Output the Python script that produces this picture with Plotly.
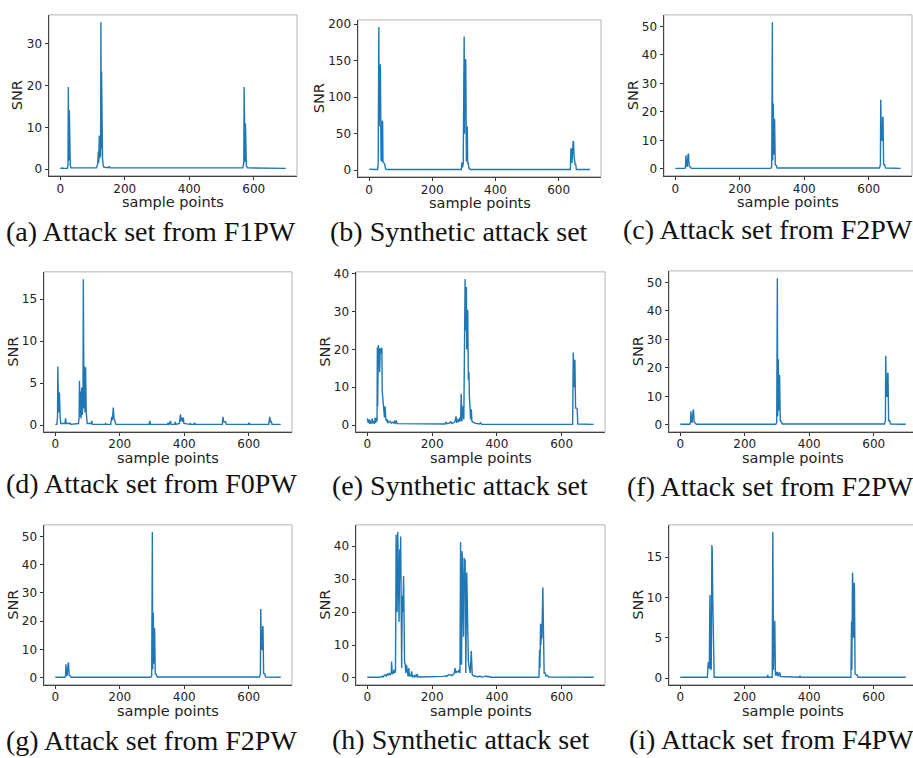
import plotly.graph_objects as go

W, H = 913, 758

# ---------------- data (sample index, SNR) ----------------
x_ticks = [0, 200, 400, 600]
n_samples = 700

# (a) Attack set from F1PW
a_pts = [(0, 0.2), (5, 0.2), (6, 0.4), (8, 0.2), (22, 0.2), (24, 1.0), (25, 19.7), (26, 2.0),
         (27, 3.0), (28, 14.1), (29, 1.5), (30, 14.0), (31, 1.0), (33, 0.3), (112, 0.3), (116, 1.2),
         (118, 4.2), (119, 1.5), (121, 8.0), (122, 2.5), (124, 8.2), (125, 3.0), (126, 35.2), (127, 5.0),
         (128, 23.4), (129, 3.0), (130, 23.3), (131, 2.5), (133, 1.0), (135, 0.5), (140, 0.4), (150, 0.4),
         (152, 0.7), (154, 0.3), (566, 0.3), (569, 1.5), (570, 19.7), (571, 2.0), (572, 11.2), (573, 1.8),
         (574, 11.0), (575, 1.5), (577, 0.8), (580, 0.3), (699, 0.2)]
a_yticks = [0, 10, 20, 30]

# (b) Synthetic attack set
b_pts = [(0, 1.5), (5, 1.0), (10, 1.4), (15, 1.0), (20, 1.2), (27, 1.0), (29, 10), (31, 196), (32, 60),
         (34, 140), (35, 145), (36, 138), (38, 15), (40, 12), (42, 68), (43, 66), (44, 12), (46, 10),
         (48, 8), (50, 8), (52, 2), (56, 1.0), (292, 1.0), (294, 11), (296, 4), (298, 10), (301, 183),
         (302, 50), (304, 148), (305, 150), (306, 152), (308, 12), (310, 60), (311, 58), (312, 10),
         (314, 10), (316, 3), (320, 1.0), (637, 1.0), (639, 30), (640, 29), (642, 10), (646, 40),
         (647, 38), (649, 18), (650, 10), (652, 8), (654, 8), (656, 1.0), (699, 1.0)]
b_yticks = [0, 50, 100, 150, 200]

# (c), (f), (g) Attack set from F2PW
f2_pts = [(0, 0.2), (30, 0.2), (32, 1.0), (33, 4.8), (35, 0.8), (37, 1.0), (40, 5.3), (41, 5.2),
          (43, 1.0), (46, 0.5), (50, 0.2), (296, 0.2), (299, 0.8), (301, 51.5), (302, 3.0), (304, 23.0),
          (305, 5.0), (307, 17.5), (308, 17.3), (310, 1.5), (313, 1.2), (316, 0.3), (633, 0.3),
          (636, 1.5), (637, 24.3), (639, 10.0), (641, 10.0), (643, 18.3), (644, 18.0), (646, 1.5),
          (649, 1.5), (652, 0.3), (699, 0.2)]
f2_yticks = [0, 10, 20, 30, 40, 50]

# (d) Attack set from F0PW
d_pts = [(0, 0.1), (5, 0.1), (7, 1.0), (8, 7.0), (10, 1.5), (12, 3.9), (13, 3.8), (15, 1.0), (17, 0.2),
         (30, 0.2), (32, 0.8), (34, 0.2), (44, 0.2), (46, 0.3), (48, 0.1), (72, 0.2), (74, 1.0), (75, 5.3),
         (77, 1.0), (78, 4.0), (80, 0.8), (82, 4.5), (84, 1.2), (86, 4.3), (87, 17.4), (89, 2.0),
         (91, 7.0), (92, 1.5), (94, 6.9), (96, 1.5), (99, 0.2), (111, 0.2), (113, 0.5), (115, 0.1),
         (154, 0.1), (156, 0.2), (158, 0.1), (172, 0.1), (175, 1.0), (177, 0.6), (180, 2.1), (182, 0.8),
         (185, 0.3), (188, 0.1), (291, 0.1), (293, 0.5), (295, 0.1), (348, 0.1), (350, 0.3), (352, 0.1),
         (355, 0.2), (357, 0.5), (359, 0.1), (370, 0.1), (372, 0.4), (374, 0.1), (385, 0.2), (388, 1.3),
         (390, 0.5), (393, 0.9), (395, 0.4), (397, 0.9), (399, 0.2), (417, 0.1), (419, 0.2), (421, 0.1),
         (430, 0.1), (432, 0.3), (434, 0.1), (518, 0.1), (520, 1.0), (522, 0.4), (528, 0.4), (530, 0.1),
         (599, 0.1), (601, 0.3), (603, 0.1), (662, 0.1), (665, 1.0), (667, 0.4), (670, 0.4), (672, 0.1),
         (699, 0.1)]
d_yticks = [0, 5, 10, 15]

# (e) Synthetic attack set
e_pts = [(0, 1.8), (3, 0.5), (6, 1.5), (8, 0.3), (10, 1.2), (13, 0.4), (15, 1.7), (17, 0.5), (20, 1.0),
         (22, 0.3), (24, 1.9), (26, 0.6), (28, 2.0), (30, 1.0), (31, 20.5), (32, 5.0), (34, 21.2),
         (35, 18.0), (37, 20.3), (38, 14.0), (40, 20.2), (41, 19.0), (43, 20.3), (45, 20.2), (46, 9.0),
         (47, 8.0), (49, 7.5), (51, 4.0), (53, 2.0), (55, 5.0), (57, 1.5), (60, 1.0), (62, 1.5), (64, 0.6),
         (66, 0.8), (70, 1.0), (74, 0.5), (78, 0.8), (82, 0.5), (85, 1.2), (87, 0.4), (89, 1.2), (92, 0.4),
         (100, 0.4), (120, 0.3), (240, 0.3), (243, 0.8), (246, 0.4), (255, 0.6), (258, 1.0), (261, 0.4),
         (266, 0.6), (270, 0.8), (274, 2.3), (276, 0.6), (279, 1.5), (282, 0.8), (285, 2.0), (288, 1.0),
         (290, 8.3), (292, 1.0), (294, 3.0), (296, 5.0), (298, 1.5), (300, 37.0), (301, 30.0),
         (302, 38.6), (303, 25.0), (304, 30.0), (305, 26.0), (306, 36.5), (307, 20.0), (309, 22.0),
         (310, 30.5), (312, 12.0), (314, 14.0), (315, 8.0), (317, 4.0), (319, 1.5), (321, 4.2),
         (323, 1.0), (327, 0.8), (332, 0.5), (340, 0.4), (345, 0.3), (350, 0.6), (353, 0.2), (360, 0.2),
         (634, 0.2), (636, 19.2), (638, 13.0), (639, 10.0), (641, 17.3), (643, 4.5), (646, 4.5),
         (648, 4.3), (650, 0.3), (699, 0.2)]
e_yticks = [0, 10, 20, 30, 40]

# (h) Synthetic attack set
h_pts = [(0, 0.2), (40, 0.2), (44, 0.5), (48, 0.3), (52, 0.8), (55, 1.0), (58, 0.5), (62, 1.2), (65, 0.8),
         (68, 1.5), (71, 1.0), (74, 1.5), (75, 5.0), (77, 1.2), (80, 1.5), (83, 2.5), (85, 1.5), (87, 2.0),
         (89, 43.5), (91, 25.0), (92, 20.0), (94, 44.3), (96, 35.0), (98, 17.0), (100, 39.0), (101, 30.0),
         (103, 43.0), (104, 20.0), (106, 3.0), (108, 25.0), (110, 20.0), (112, 31.0), (113, 20.0),
         (115, 5.0), (117, 4.0), (119, 1.5), (121, 4.0), (124, 1.0), (126, 0.5), (128, 3.0), (130, 0.5),
         (132, 1.0), (134, 0.5), (137, 2.0), (139, 0.4), (142, 0.6), (145, 0.3), (148, 1.0), (151, 0.3),
         (154, 1.2), (156, 0.3), (163, 0.3), (230, 0.3), (236, 0.5), (240, 0.7), (245, 0.5), (250, 0.9),
         (255, 1.0), (260, 0.7), (265, 1.0), (268, 1.5), (271, 3.0), (273, 1.5), (276, 2.0), (280, 1.8),
         (284, 2.5), (286, 1.5), (288, 41.3), (290, 5.0), (291, 4.0), (293, 38.5), (295, 20.0),
         (297, 12.5), (299, 36.5), (300, 30.0), (302, 36.0), (303, 20.0), (304, 1.5), (307, 32.0),
         (308, 25.0), (310, 14.0), (312, 5.0), (315, 3.0), (318, 1.5), (321, 8.2), (323, 3.0), (324, 1.0),
         (327, 0.8), (330, 0.5), (335, 0.6), (340, 0.3), (348, 0.6), (352, 0.3), (360, 0.4), (369, 0.6),
         (372, 0.3), (376, 0.5), (379, 0.2), (530, 0.2), (532, 8.5), (533, 3.0), (535, 16.5), (536, 10.0),
         (538, 16.5), (539, 12.0), (542, 27.5), (544, 3.0), (546, 1.5), (549, 1.5), (552, 0.6), (556, 0.8),
         (560, 0.3), (699, 0.2)]
h_yticks = [0, 10, 20, 30, 40]

# (i) Attack set from F4PW
i_pts = [(0, 0.1), (84, 0.1), (86, 1.5), (87, 2.0), (89, 1.5), (90, 1.2), (92, 10.3), (94, 1.0),
         (96, 1.2), (98, 16.5), (99, 16.0), (101, 9.3), (103, 1.0), (105, 0.1), (269, 0.1), (271, 0.4),
         (273, 0.1), (285, 0.1), (287, 18.1), (289, 1.0), (291, 5.0), (293, 7.1), (295, 0.5), (297, 0.3),
         (299, 0.7), (301, 0.7), (303, 0.3), (305, 0.3), (307, 0.7), (309, 0.6), (311, 0.2), (369, 0.1),
         (371, 0.3), (373, 0.1), (529, 0.1), (531, 7.0), (532, 1.0), (534, 13.1), (535, 12.0), (537, 5.0),
         (539, 11.8), (540, 11.5), (542, 0.5), (545, 0.4), (548, 0.4), (551, 0.1), (699, 0.1)]
i_yticks = [0, 5, 10, 15]

captions = ["(a) Attack set from F1PW", "(b) Synthetic attack set", "(c) Attack set from F2PW",
            "(d) Attack set from F0PW", "(e) Synthetic attack set", "(f) Attack set from F2PW",
            "(g) Attack set from F2PW", "(h) Synthetic attack set", "(i) Attack set from F4PW"]

series = [a_pts, b_pts, f2_pts, d_pts, e_pts, f2_pts, f2_pts, h_pts, i_pts]
yticks = [a_yticks, b_yticks, f2_yticks, d_yticks, e_yticks, f2_yticks, f2_yticks, h_yticks, i_yticks]

# ---------------- layout (pixel boxes: left, right, top, bottom, full width) ----------------
boxes = [(49, 297, 10, 172, 248), (358, 601, 15, 173, 243), (664, 912, 10, 172, 248),
         (44, 292, 269, 430, 248), (356, 605, 269, 430, 249), (669, 913, 268, 430, 248),
         (44, 292, 524, 685, 248), (356, 605, 524, 685, 249), (669, 913, 524, 685, 248)]
cap_pos = [(151, 228), (459, 228), (768, 226),
           (151, 482), (460, 484), (770, 485),
           (151, 741), (461, 740), (771, 740)]
snr_x = [17, 319, 633, 13, 325, 638, 13, 325, 638]

BLUE = "#1f77b4"
fig = go.Figure()
annotations = []
shapes = []
layout = {}

x_lo = -0.05 * (n_samples - 1)
x_hi = (n_samples - 1) * 1.05

for k in range(9):
    i = k + 1
    sfx = "" if i == 1 else str(i)
    L, R, T, B, full_w = boxes[k]
    xs = [p[0] for p in series[k]]
    ys = [p[1] for p in series[k]]
    fig.add_trace(go.Scatter(x=xs, y=ys, mode="lines", line=dict(color=BLUE, width=1.4),
                             xaxis="x" + sfx, yaxis="y" + sfx, showlegend=False, hoverinfo="skip"))
    ymin, ymax = min(ys), max(ys)
    span = ymax - ymin
    vis = (R - L) / full_w
    xr_hi = x_lo + (x_hi - x_lo) * vis
    common = dict(ticks="outside", ticklen=3.5, tickwidth=1, tickcolor="#333",
                  showline=True, linecolor="#444", linewidth=1, showgrid=False, zeroline=False,
                  tickfont=dict(family="DejaVu Sans", size=12, color="#222"), fixedrange=True)
    layout["xaxis" + sfx] = dict(domain=[L / W, R / W], range=[x_lo, xr_hi], anchor="y" + sfx,
                                 tickmode="array", tickvals=x_ticks, ticklabelstandoff=-2, **common)
    layout["yaxis" + sfx] = dict(domain=[1 - B / H, 1 - T / H],
                                 range=[ymin - 0.05 * span, ymax + 0.05 * span], anchor="x" + sfx,
                                 tickmode="array", tickvals=yticks[k], **common)
    shapes.append(dict(type="rect", xref="x" + sfx + " domain", yref="y" + sfx + " domain",
                       x0=0, x1=1 / vis, y0=0, y1=1, line=dict(color="#b5b5b5", width=1), layer="below"))
    # axis titles
    annotations.append(dict(text="sample points", xref="paper", yref="paper",
                            x=((L + L + full_w) / 2) / W, y=1 - (B + 26.5) / H, showarrow=False,
                            xanchor="center", yanchor="middle",
                            font=dict(family="DejaVu Sans", size=14.5, color="#222")))
    annotations.append(dict(text="SNR", xref="paper", yref="paper", x=snr_x[k] / W,
                            y=1 - ((T + B) / 2) / H, showarrow=False, textangle=-90,
                            xanchor="center", yanchor="middle",
                            font=dict(family="DejaVu Sans", size=14.5, color="#222")))
    cx, cy = cap_pos[k]
    annotations.append(dict(text=captions[k], xref="paper", yref="paper", x=cx / W, y=1 - cy / H,
                            showarrow=False, xanchor="center", yanchor="middle",
                            font=dict(family="Liberation Serif", size=28, color="#111")))

fig.update_layout(width=W, height=H, margin=dict(l=0, r=0, t=0, b=0),
                  paper_bgcolor="white", plot_bgcolor="white",
                  annotations=annotations, shapes=shapes, **layout)

post = ("document.body.style.margin='0';document.body.style.padding='0';"
        "var d=document.getElementById('{plot_id}');"
        "d.style.position='absolute';d.style.top='0px';d.style.left='0px';")
fig.write_html("out.html", config={"displayModeBar": False}, post_script=post)
